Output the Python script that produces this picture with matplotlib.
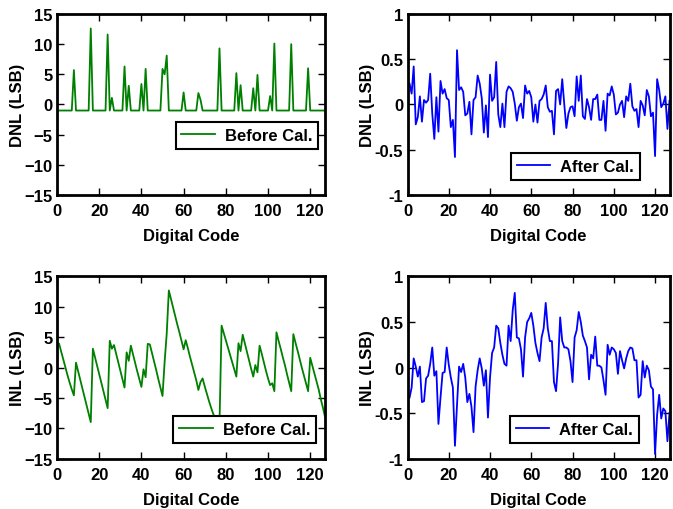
import numpy as np
import matplotlib
matplotlib.use("Agg")
import matplotlib.pyplot as plt

plt.rcParams['font.family'] = ['Liberation Sans', 'DejaVu Sans']
plt.rcParams['font.weight'] = 'bold'

# DNL before calibration (codes 1..127), mostly -1 with spikes
dnl_before = [-1] * 127
spikes = {8: 5.7, 16: 12.6, 24: 11.6, 26: 1.1, 32: 6.3, 34: 3.1, 40: 3.4, 42: 5.9,
          50: 5.9, 51: 5.0, 52: 8.1, 60: 2.0, 67: 1.9, 68: 0.8, 77: 9.3, 85: 5.2,
          87: 3.2, 93: 2.7, 95: 4.9, 101: 1.4, 103: 10.1, 111: 10.0, 119: 6.0}
for code, val in spikes.items():
    dnl_before[code - 1] = val

dnl_after = [0.23, 0.12, 0.42, -0.22, -0.14, 0.09, -0.19, 0.05, 0.02, 0.05,
             0.34, -0.10, -0.38, 0.08, -0.30, 0.26, 0.12, 0.17, 0.07, 0.05,
             -0.25, -0.17, -0.58, 0.60, 0.16, 0.19, 0.14, -0.12, -0.10, 0.03,
             -0.33, 0.05, 0.08, 0.32, 0.23, 0.07, -0.31, -0.01, -0.36, 0.33,
             0.04, 0.08, 0.47, -0.11, -0.25, 0.01, -0.25, 0.14, 0.20, 0.18,
             0.14, 0.01, -0.18, -0.03, 0.01, -0.15, 0.21, 0.12, 0.15, 0.08,
             -0.19, 0.00, -0.20, 0.04, 0.06, 0.11, 0.21, -0.03, -0.08, -0.07,
             -0.33, 0.15, 0.17, 0.00, 0.28, 0.00, -0.26, -0.10, -0.03, -0.02,
             -0.13, 0.31, 0.04, 0.32, -0.13, -0.16, 0.06, -0.03, -0.17, 0.06,
             0.06, 0.11, -0.17, -0.17, 0.04, -0.29, 0.12, 0.10, 0.20, 0.11,
             -0.11, -0.09, 0.00, 0.04, -0.14, 0.09, 0.04, 0.23, -0.02, -0.07,
             -0.05, -0.25, 0.04, -0.01, -0.12, 0.16, 0.09, -0.13, -0.09, -0.57,
             0.28, 0.16, -0.03, 0.01, 0.09, -0.27, 0.04]

inl_before = [3.9, 2.6, 1.3, 0.0, -1.3, -2.5, -3.6, -4.6, 0.8, -0.6,
              -2.0, -3.4, -4.8, -6.2, -7.6, -9.0, 3.1, 1.7, 0.3, -1.1,
              -2.5, -3.9, -5.3, -6.7, 4.4, 3.1, 3.7, 2.3, 0.9, -0.5,
              -1.9, -3.3, 2.5, 1.1, 3.6, 2.2, 0.8, -0.6, -1.9, -3.2,
              -0.3, -1.6, 3.9, 3.8, 2.4, 1.0, -0.4, -1.9, -3.3, -4.7,
              0.9, 5.6, 12.7, 11.3, 9.9, 8.5, 7.1, 5.8, 4.4, 3.0,
              4.5, 3.2, 1.8, 0.5, -0.8, -2.1, -3.7, -2.4, -1.8, -3.1,
              -4.3, -5.5, -6.6, -7.6, -8.4, -8.9, -9.3, 6.9, 5.7, 4.5,
              3.3, 2.1, 0.9, -0.3, -1.5, 4.0, 2.7, 5.4, 4.0, 2.6,
              1.2, -0.2, -1.5, 0.4, -0.8, 3.6, 2.3, 0.9, -0.5, -1.8,
              -2.9, -2.6, -3.9, 5.8, 4.4, 3.1, 1.7, 0.4, -1.1, -2.5,
              -3.9, 5.5, 4.1, 2.8, 1.4, 0.0, -1.3, -2.6, -3.9, 1.6,
              0.3, -1.0, -2.3, -3.6, -5.2, -6.6, -8.1]

inl_after = [-0.33, -0.22, 0.10, 0.01, -0.10, 0.01, -0.38, -0.37, -0.12, -0.09,
             0.04, 0.22, -0.09, -0.04, -0.62, -0.33, -0.06, -0.05, 0.22, 0.03,
             -0.11, -0.22, -0.86, -0.41, 0.01, -0.05, 0.04, -0.11, -0.38, -0.29,
             -0.43, -0.71, -0.21, -0.03, 0.10, -0.01, -0.20, -0.03, -0.55, -0.11,
             0.16, 0.22, 0.46, 0.43, 0.27, 0.14, 0.04, 0.02, 0.46, 0.29,
             0.63, 0.82, 0.33, 0.32, 0.20, -0.10, 0.33, 0.50, 0.54, 0.60,
             0.46, 0.27, 0.16, 0.07, 0.33, 0.43, 0.71, 0.43, 0.29, 0.29,
             -0.16, -0.26, 0.05, 0.55, 0.29, 0.22, 0.22, 0.20, 0.07, -0.16,
             0.33, 0.41, 0.61, 0.50, 0.35, 0.29, 0.22, -0.13, 0.14, 0.10,
             0.34, 0.02, 0.02, 0.00, -0.14, -0.30, 0.25, 0.14, 0.22, 0.20,
             0.16, -0.07, 0.18, 0.08, -0.01, 0.10, 0.18, 0.22, 0.21, 0.08,
             0.08, -0.33, -0.30, 0.07, -0.11, 0.02, -0.03, -0.21, -0.24, -0.95,
             -0.52, -0.30, -0.56, -0.45, -0.48, -0.81, -0.50]

x_ticks = [0, 20, 40, 60, 80, 100, 120]
left_yticks = [-15, -10, -5, 0, 5, 10, 15]
right_yticks = [-1, -0.5, 0, 0.5, 1]
right_ylabels = ['-1', '-0.5', '0', '0.5', '1']

GREEN = '#008000'
BLUE = '#0000ff'

fig = plt.figure(figsize=(6.73, 5.10), dpi=100)


def setup(ax, y, color, ylabel, label, yticks, ylim, yticklabels, legend_anchor):
    codes = np.arange(1, len(y) + 1)
    ax.plot(codes, y, color=color, lw=1.3, label=label)
    ax.set_xlim(0, 127)
    ax.set_ylim(*ylim)
    ax.set_xticks(x_ticks)
    ax.set_yticks(yticks)
    if yticklabels is not None:
        ax.set_yticklabels(yticklabels)
    ax.tick_params(direction='in', top=True, right=True, length=5, width=1,
                   labelsize=12)
    ax.tick_params(axis='x', pad=6)
    ax.tick_params(axis='y', pad=3)
    for sp in ax.spines.values():
        sp.set_linewidth(2)
    ax.set_xlabel('Digital Code', fontsize=12, fontweight='bold', labelpad=7)
    ax.set_ylabel(ylabel, fontsize=12, fontweight='bold', labelpad=0)
    leg = ax.legend(loc='lower right', bbox_to_anchor=legend_anchor,
                    borderaxespad=0, fancybox=False, framealpha=1,
                    edgecolor='black', fontsize=12, handlelength=2.0,
                    borderpad=0.35, handletextpad=0.6)
    leg.get_frame().set_linewidth(1.5)


ax1 = fig.add_axes([0.0847, 0.6157, 0.3982, 0.3549])
setup(ax1, dnl_before, GREEN, 'DNL (LSB)', 'Before Cal.', left_yticks, (-15, 15),
      None, (0.974, 0.254))

ax2 = fig.add_axes([0.6055, 0.6157, 0.3893, 0.3549])
setup(ax2, dnl_after, BLUE, 'DNL (LSB)', 'After Cal.', right_yticks, (-1, 1),
      right_ylabels, (0.886, 0.083))

ax3 = fig.add_axes([0.0847, 0.0990, 0.3982, 0.3569])
setup(ax3, inl_before, GREEN, 'INL (LSB)', 'Before Cal.', left_yticks, (-15, 15),
      None, (0.966, 0.087))

ax4 = fig.add_axes([0.6055, 0.0990, 0.3893, 0.3569])
setup(ax4, inl_after, BLUE, 'INL (LSB)', 'After Cal.', right_yticks, (-1, 1),
      right_ylabels, (0.883, 0.087))

fig.savefig('out.png', dpi=100)
